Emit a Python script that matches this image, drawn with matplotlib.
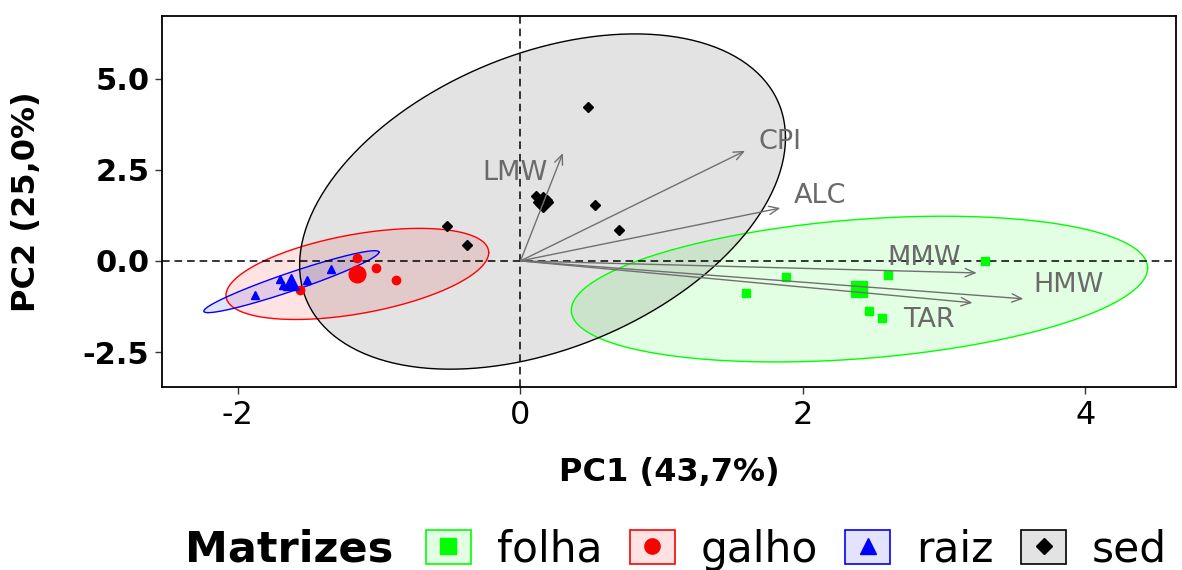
import numpy as np
import matplotlib
matplotlib.use('Agg')
import matplotlib.pyplot as plt
from matplotlib.lines import Line2D
from matplotlib.patches import Patch
from matplotlib.colors import to_rgba

# grupos (matrizes)
groups = ['folha', 'galho', 'raiz', 'sed']
colors = ['#00FF00', '#FF0000', '#0000FF', '#000000']
markers = ['s', 'o', '^', 'D']

# scores dos individuos (PC1, PC2)
folha_x = [3.29, 2.60, 1.88, 1.60, 2.47, 2.56]
folha_y = [0.00, -0.39, -0.43, -0.88, -1.38, -1.56]
galho_x = [-1.16, -1.02, -0.88, -1.56]
galho_y = [0.08, -0.20, -0.52, -0.79]
raiz_x = [-1.88, -1.34, -1.51, -1.68, -1.70]
raiz_y = [-0.93, -0.22, -0.52, -0.67, -0.51]
sed_x = [0.48, 0.53, 0.70, -0.52, -0.38, 0.11, 0.19, 0.14]
sed_y = [4.23, 1.54, 0.85, 0.96, 0.44, 1.78, 1.67, 1.56]

# elipses (desvios e correlacao)
ell_sx = [2.04, 0.93, 0.62, 1.72]
ell_sy = [2.00, 1.25, 0.85, 4.60]
ell_rho = [0.29, 0.47, 0.95, 0.38]

# variaveis (setas)
var_names = ['LMW', 'CPI', 'ALC', 'MMW', 'HMW', 'TAR']
var_pc1 = [0.30, 1.59, 1.84, 3.23, 3.56, 3.20]
var_pc2 = [2.96, 3.02, 1.45, -0.33, -1.04, -1.15]
lab_x = [-0.04, 1.84, 2.12, 2.86, 3.88, 2.89]
lab_y = [2.41, 3.26, 1.78, 0.08, -0.66, -1.62]

xs = [folha_x, galho_x, raiz_x, sed_x]
ys = [folha_y, galho_y, raiz_y, sed_y]

fig = plt.figure(figsize=(11.82, 5.70), dpi=100)
ax = fig.add_axes([162/1182, 1 - 387/570, (1176-162)/1182, (387-16)/570])

t = np.linspace(0, 2*np.pi, 300)
for i, g in enumerate(groups):
    cx, cy = np.mean(xs[i]), np.mean(ys[i])
    r = ell_rho[i]
    ex = cx + ell_sx[i]*np.cos(t)
    ey = cy + ell_sy[i]*(r*np.cos(t) + np.sqrt(1 - r**2)*np.sin(t))
    ax.fill(ex, ey, color=colors[i], alpha=0.11, lw=0, zorder=1)
    ax.plot(ex, ey, color=colors[i], lw=1, zorder=2)

ax.axhline(0, color='black', lw=1.1, ls=(0, (5, 3.2)), zorder=2.5)
ax.axvline(0, color='black', lw=1.1, ls=(0, (5, 3.2)), zorder=2.5)

for i, g in enumerate(groups):
    ax.plot(xs[i], ys[i], ls='none', marker=markers[i], color=colors[i],
            ms=6 if markers[i] != 'D' else 5, zorder=4)
    ax.plot(np.mean(xs[i]), np.mean(ys[i]), ls='none', marker=markers[i],
            color=colors[i], ms=12 if markers[i] != 'D' else 10, zorder=4)

for i, v in enumerate(var_names):
    ax.annotate('', xy=(var_pc1[i], var_pc2[i]), xytext=(0, 0),
                arrowprops=dict(arrowstyle='->,head_length=0.7,head_width=0.3',
                                color='#707070', lw=1, shrinkA=0, shrinkB=0),
                zorder=5)
    ax.text(lab_x[i], lab_y[i], v, color='#6a6a6a', fontsize=19.5,
            ha='center', va='center', zorder=6)

ax.set_xlim(-2.538, 4.641)
ax.set_ylim(-3.46, 6.72)
ax.set_xticks([-2, 0, 2, 4])
ax.set_xticklabels(['-2', '0', '2', '4'], fontsize=23)
ax.set_yticks([-2.5, 0, 2.5, 5.0])
ax.set_yticklabels(['-2.5', '0.0', '2.5', '5.0'], fontsize=22, fontweight='bold')
ax.tick_params(length=5, width=1, color='#333333', pad=4)
for s in ax.spines.values():
    s.set_linewidth(1.3)

ax.set_xlabel('PC1 (43,7%)', fontsize=23, fontweight='bold', va='top')
ax.xaxis.set_label_coords(0.5, -0.19)
ax.set_ylabel('PC2 (25,0%)', fontsize=23, fontweight='bold')
ax.yaxis.set_label_coords(-0.118, 0.5)

# legenda
fig.text(185/1182, 1 - 550/570, 'Matrizes', fontsize=31, fontweight='bold',
         ha='left', va='center')
handles = []
for i, g in enumerate(groups):
    box = Patch(facecolor=to_rgba(colors[i], 0.11), edgecolor=colors[i], lw=1.2)
    mk = Line2D([], [], ls='none', marker=markers[i], color=colors[i],
                ms=11 if markers[i] != 'D' else 8)
    handles.append((box, mk))
fig.legend(handles, groups, ncol=4, loc='center left',
           bbox_to_anchor=(426/1182, 1 - 550/570), frameon=False, fontsize=30.5,
           handlelength=1.06, handleheight=0.85, handletextpad=0.61,
           columnspacing=0.65, borderpad=0, borderaxespad=0)

fig.savefig('out.png', dpi=100)
